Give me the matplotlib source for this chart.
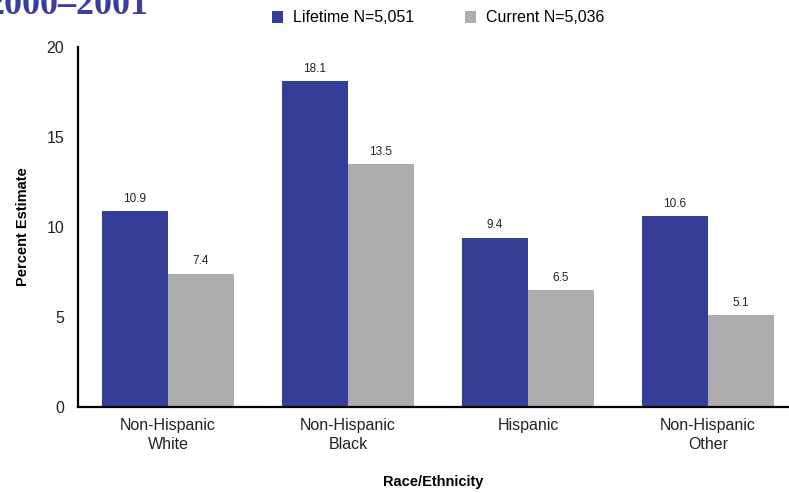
import matplotlib
matplotlib.use("Agg")
import matplotlib.pyplot as plt
import numpy as np
from matplotlib import font_manager

categories = ["Non-Hispanic\nWhite", "Non-Hispanic\nBlack", "Hispanic", "Non-Hispanic\nOther"]
lifetime = [10.9, 18.1, 9.4, 10.6]
current = [7.4, 13.5, 6.5, 5.1]
series_names = ["Lifetime N=5,051", "Current N=5,036"]
yticks = [0, 5, 10, 15, 20]

names = {f.name for f in font_manager.fontManager.ttflist}
fam = "Liberation Sans Narrow" if "Liberation Sans Narrow" in names else "Liberation Sans"
plt.rcParams["font.family"] = [fam, "DejaVu Sans"]

blue = "#353e97"
gray = "#adadad"

fig = plt.figure(figsize=(7.89, 4.93), dpi=100)
ax = fig.add_axes([78 / 789, 86 / 493, 1 - 78 / 789, 360 / 493])

x = np.arange(len(categories))
w = 0.367
b1 = ax.bar(x - w / 2, lifetime, w, color=blue, label=series_names[0])
b2 = ax.bar(x + w / 2, current, w, color=gray, label=series_names[1])

for bars, vals in ((b1, lifetime), (b2, current)):
    for r, v in zip(bars, vals):
        ax.text(r.get_x() + r.get_width() / 2, v + 0.35, f"{v:.1f}",
                ha="center", va="bottom", fontsize=8.5, color="#222222")

ax.set_xlim(-0.5, 3.45)
ax.set_ylim(0, 20)
ax.set_yticks(yticks)
ax.set_xticks(x)
ax.set_xticklabels(categories, fontsize=11, linespacing=1.3)
ax.tick_params(axis="both", length=0, labelsize=11.5, colors="#222222")
ax.tick_params(axis="y", pad=10)
ax.tick_params(axis="x", pad=8)
for s in ("top", "right"):
    ax.spines[s].set_visible(False)
for s in ("left", "bottom"):
    ax.spines[s].set_linewidth(1.6)
    ax.spines[s].set_color("black")

ax.set_ylabel("Percent Estimate", fontsize=10.5, fontweight="bold", labelpad=12)
ax.set_xlabel("Race/Ethnicity", fontsize=10.5, fontweight="bold", labelpad=17)

fig.legend(handles=[b1, b2], loc="center", bbox_to_anchor=(438 / 789, 1 - 18 / 493),
           ncol=2, frameon=False, fontsize=11.5, handlelength=0.7, handleheight=0.7,
           columnspacing=3.2, handletextpad=0.6)

fig.text(148 / 789, 1 - 14 / 493, "2000\u20132001", ha="right", va="baseline",
         fontsize=26, fontweight="bold", color="#3a3f9c", family="Liberation Serif")

fig.savefig("out.png", dpi=100)
